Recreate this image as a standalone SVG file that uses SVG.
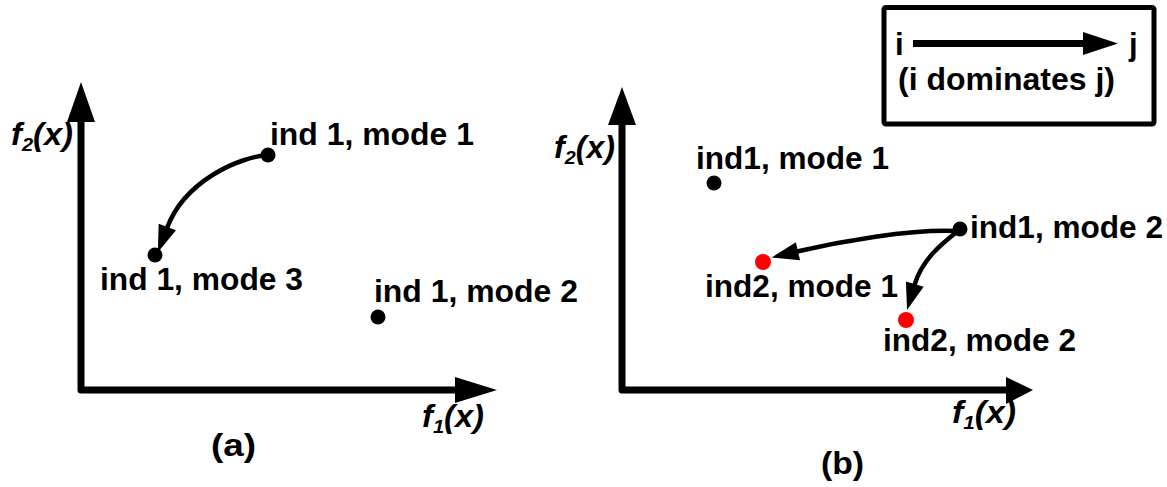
<svg xmlns="http://www.w3.org/2000/svg" width="1167" height="487" viewBox="0 0 1167 487">
<style>
  .t { font-family: "Liberation Sans", Arial, sans-serif; font-weight: bold; font-size: 31px; fill: #000; }
  .ax { font-family: "Liberation Sans", Arial, sans-serif; font-weight: bold; font-style: italic; font-size: 31px; fill: #000; }
  .axis { fill: none; stroke: #000; stroke-width: 7; stroke-linejoin: round; stroke-linecap: round; }
  .head { fill: #000; }
  .curve { fill: none; stroke: #000; stroke-width: 4.5; marker-end: url(#ah); }
  .dot { fill: #000; }
  .red { fill: #ff0000; }
</style>
<defs>
  <marker id="ah" markerUnits="userSpaceOnUse" markerWidth="30" markerHeight="20" refX="1" refY="9.25" orient="auto" overflow="visible">
    <path d="M0,0 L27,9.25 L0,18.5 Z" fill="#000"/>
  </marker>
</defs>

<!-- Panel (a) axes -->
<g id="axes-a">
  <path class="axis" d="M81,122 L81,390 L455,390"/>
  <polygon class="head" points="67,122 81,82 95,122"/>
  <polygon class="head" points="455,377 497,390 455,403"/>
  <text class="ax" x="11" y="145" textLength="62" lengthAdjust="spacingAndGlyphs">f<tspan font-size="19" dy="6">2</tspan><tspan dy="-6">(x)</tspan></text>
  <text class="ax" x="422" y="427" textLength="62" lengthAdjust="spacingAndGlyphs">f<tspan font-size="19" dy="6">1</tspan><tspan dy="-6">(x)</tspan></text>
  <text class="t" x="211" y="456" textLength="45" lengthAdjust="spacingAndGlyphs">(a)</text>
</g>

<!-- Panel (b) axes -->
<g id="axes-b">
  <path class="axis" d="M622,125 L622,390 L1007,390"/>
  <polygon class="head" points="608,125 622,87 636,125"/>
  <polygon class="head" points="1006,377 1033,390 1006,404"/>
  <text class="ax" x="554" y="158" textLength="61" lengthAdjust="spacingAndGlyphs">f<tspan font-size="19" dy="6">2</tspan><tspan dy="-6">(x)</tspan></text>
  <text class="ax" x="952" y="423" textLength="64" lengthAdjust="spacingAndGlyphs">f<tspan font-size="19" dy="6">1</tspan><tspan dy="-6">(x)</tspan></text>
  <text class="t" x="821" y="474" textLength="43" lengthAdjust="spacingAndGlyphs">(b)</text>
</g>

<!-- Panel (a) nodes -->
<g id="a-ind1-mode1">
  <circle class="dot" cx="268" cy="155" r="7.5"/>
  <text class="t" x="270" y="145" textLength="204" lengthAdjust="spacingAndGlyphs">ind 1, mode 1</text>
</g>
<g id="a-ind1-mode3">
  <circle class="dot" cx="155" cy="255" r="7.5"/>
  <text class="t" x="100" y="290" textLength="203" lengthAdjust="spacingAndGlyphs">ind 1, mode 3</text>
</g>
<g id="a-ind1-mode2">
  <circle class="dot" cx="378" cy="317" r="7.5"/>
  <text class="t" x="374" y="302" textLength="204" lengthAdjust="spacingAndGlyphs">ind 1, mode 2</text>
</g>

<!-- Panel (b) nodes -->
<g id="b-ind1-mode1">
  <circle class="dot" cx="714" cy="183" r="7.5"/>
  <text class="t" x="696" y="169" textLength="193" lengthAdjust="spacingAndGlyphs">ind1, mode 1</text>
</g>
<g id="b-ind1-mode2">
  <circle class="dot" cx="960" cy="229" r="7.5"/>
  <text class="t" x="970" y="238" textLength="193" lengthAdjust="spacingAndGlyphs">ind1, mode 2</text>
</g>
<g id="b-ind2-mode1">
  <circle class="red" cx="763" cy="262" r="8"/>
  <text class="t" x="705" y="297" textLength="193" lengthAdjust="spacingAndGlyphs">ind2, mode 1</text>
</g>
<g id="b-ind2-mode2">
  <circle class="red" cx="906" cy="320" r="8"/>
  <text class="t" x="883" y="351" textLength="193" lengthAdjust="spacingAndGlyphs">ind2, mode 2</text>
</g>

<!-- Legend -->
<g id="legend">
  <rect x="884" y="7.5" width="270" height="116.5" rx="2" fill="none" stroke="#000" stroke-width="5"/>
  <text class="t" x="895" y="55">i</text>
  <line x1="913" y1="43.5" x2="1084" y2="43.5" stroke="#000" stroke-width="7"/>
  <polygon class="head" points="1083,32 1118,43.5 1083,55"/>
  <text class="t" x="1129" y="55">j</text>
  <text class="t" x="898" y="90" textLength="217" lengthAdjust="spacingAndGlyphs">(i dominates j)</text>
</g>

<!-- Connectors -->
<g id="connectors">
  <path class="curve" d="M268,155 C240,157 185,180 167,228"/>
  <path class="curve" d="M956,231 C910,229 840,241.5 797,251.5"/>
  <path class="curve" d="M958,231 C940,245 922,260 914.5,285"/>
</g>
</svg>
